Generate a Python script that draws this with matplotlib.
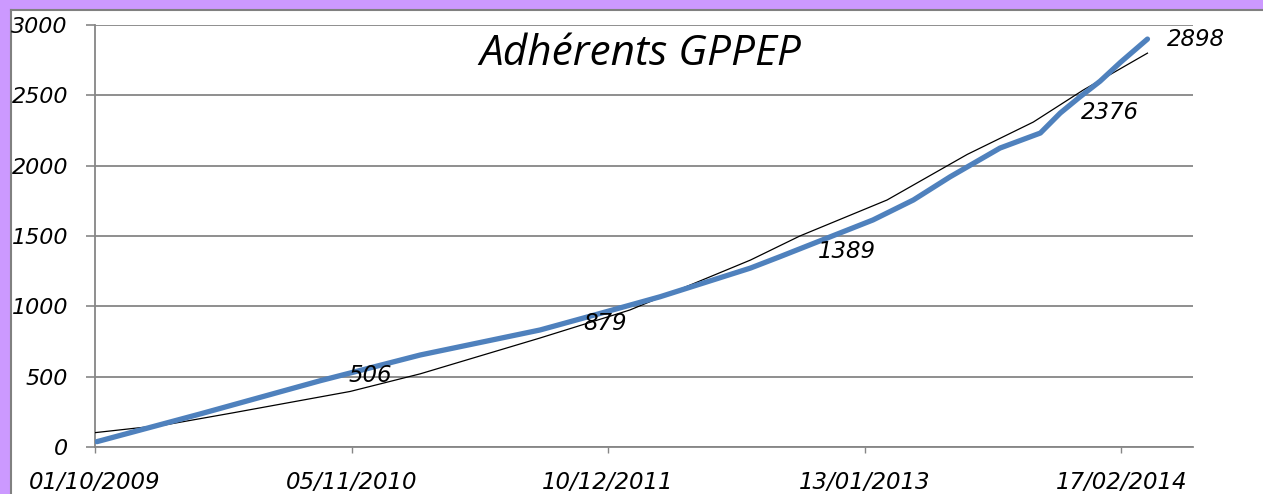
import pandas as pd
import matplotlib
matplotlib.use("Agg")
import matplotlib.pyplot as plt
import matplotlib.dates as mdates
from matplotlib.ticker import FixedLocator
from matplotlib.patches import Rectangle
from matplotlib.lines import Line2D

# membres (courbe bleue)
member_dates = ["2009-10-04", "2010-03-14", "2010-09-17", "2011-02-20", "2011-08-26",
                "2011-11-28", "2012-02-29", "2012-07-19", "2012-09-03", "2013-01-26",
                "2013-03-30", "2013-05-26", "2013-08-12", "2013-10-14", "2013-11-14",
                "2013-12-15", "2014-01-15", "2014-02-16", "2014-03-30"]
member_counts = [38, 235, 471, 654, 832, 950, 1068, 1272, 1353, 1614,
                 1756, 1920, 2125, 2232, 2374, 2490, 2600, 2735, 2900]

# courbe de tendance (trait fin noir)
trend_dates = ["2009-10-01", "2010-01-18", "2010-05-03", "2010-11-03", "2011-02-20",
               "2011-08-26", "2012-01-13", "2012-07-19", "2012-10-04", "2013-02-17",
               "2013-06-22", "2013-10-03", "2013-12-20", "2014-03-30"]
trend_counts = [102, 157, 242, 395, 520, 775, 974, 1329, 1500, 1756,
                2080, 2310, 2538, 2800]

# étiquettes de données
label_dates = ["2010-12-05", "2011-12-05", "2012-12-17", "2014-01-31", "2014-06-14"]
label_values = [506, 879, 1389, 2376, 2898]

tick_dates = ["2009-10-01", "2010-11-05", "2011-12-10", "2013-01-13", "2014-02-17"]
y_ticks = [0, 500, 1000, 1500, 2000, 2500, 3000]

W, H = 1263, 494
purple = "#CC99FF"
grid_gray = "#868686"
blue = "#4F81BD"

fig = plt.figure(figsize=(W / 100, H / 100), dpi=100, facecolor=purple)

# cadre blanc avec bord gris (gauche et haut)
fx0, fy1 = 10.5 / W, 1 - 10.5 / H
fig.patches.append(Rectangle((fx0, 0), 1 - fx0, fy1, transform=fig.transFigure,
                             facecolor="white", edgecolor="none", zorder=-10))
fig.lines.append(Line2D([fx0, fx0], [0, fy1], transform=fig.transFigure,
                        color="#808080", lw=1.5, zorder=-9))
fig.lines.append(Line2D([fx0, 1], [fy1, fy1], transform=fig.transFigure,
                        color="#808080", lw=1.5, zorder=-9))

left, right, top, bottom = 95, 1193, 25, 447
ax = fig.add_axes([left / W, 1 - bottom / H, (right - left) / W, (bottom - top) / H])
ax.set_facecolor("none")
ax.set_zorder(1)

md = pd.to_datetime(member_dates)
td = pd.to_datetime(trend_dates)
ax.plot(td, trend_counts, color="black", lw=0.9, zorder=3)
ax.plot(md, member_counts, color=blue, lw=3.8, solid_capstyle="round", zorder=4)

for d, v in zip(pd.to_datetime(label_dates), label_values):
    ax.text(d, v, str(v), ha="center", va="center", fontsize=16.5, style="italic",
            color="black", zorder=5)

ax.set_xlim(pd.Timestamp("2009-10-01"), pd.Timestamp("2014-06-09"))
ax.set_ylim(0, 3000)
ax.set_yticks(y_ticks)
ax.xaxis.set_major_locator(FixedLocator(mdates.date2num(pd.to_datetime(tick_dates))))
ax.xaxis.set_major_formatter(mdates.DateFormatter("%d/%m/%Y"))

ax.grid(axis="y", color=grid_gray, lw=1.3)
ax.set_axisbelow(True)
for s in ["top", "right"]:
    ax.spines[s].set_visible(False)
for s in ["left", "bottom"]:
    ax.spines[s].set_color(grid_gray)
    ax.spines[s].set_linewidth(1.3)

ax.tick_params(axis="y", length=6.5, width=1.2, color=grid_gray, pad=13, labelsize=16)
ax.tick_params(axis="x", length=4.3, width=1.0, color=grid_gray, pad=13, labelsize=16.5)
for lab in ax.get_xticklabels() + ax.get_yticklabels():
    lab.set_style("italic")

fig.text(640 / W, 1 - 54 / H, "Adhérents GPPEP", ha="center", va="center",
         fontsize=30.5, style="italic", family="Open Sans", color="black", zorder=2)

fig.savefig("out.png", dpi=100, facecolor=purple)
